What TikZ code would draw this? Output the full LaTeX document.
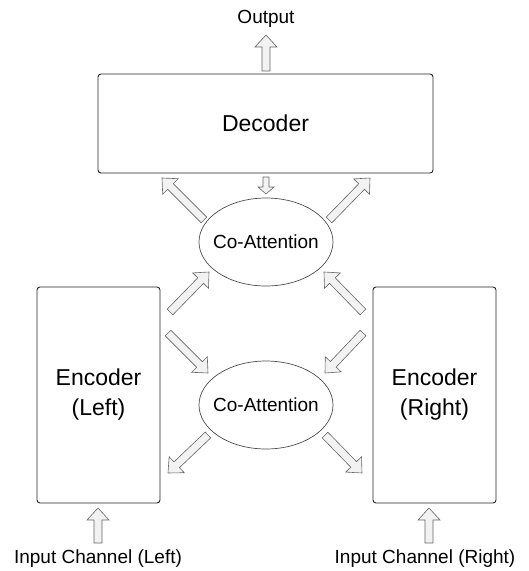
\documentclass[tikz,border=0pt]{standalone}
\usepackage{fontspec}
\setmainfont{Liberation Sans}
\usetikzlibrary{calc,shapes.geometric}
\tikzset{
  box/.style={draw=black!85, line width=0.9pt, rounded corners=3pt, align=center, font=\fontsize{23}{30}\selectfont},
  coatt/.style={ellipse, draw=black!70, line width=0.7pt, minimum width=134pt, minimum height=88pt, inner sep=0pt,
    label={[font=\fontsize{19}{23}\selectfont, inner sep=0pt]center:#1}},
  lbl/.style={font=\fontsize{19}{23}\selectfont, inner sep=0pt},
  barr/.style={draw=black!60, line width=0.6pt, fill=black!5, line join=miter},
}
% block arrow: #1 start, #2 tip, #3 shaft half-width, #4 head half-width, #5 head length
\newcommand\blockarrow[5]{%
  \coordinate (ba-c) at ($(#2)!#5!(#1)$);
  \path[barr] ($(#1)!#3!90:(#2)$) -- ($(ba-c)!#3!90:(#2)$) -- ($(ba-c)!#4!90:(#2)$)
    -- (#2) -- ($(ba-c)!#4!-90:(#2)$) -- ($(ba-c)!#3!-90:(#2)$) -- ($(#1)!#3!-90:(#2)$) -- cycle;
}
\begin{document}
\begin{tikzpicture}[x=1pt,y=-1pt]
\useasboundingbox (0,0) rectangle (529,571);
% nodes
\node[box, minimum width=335pt, minimum height=99pt] (dec) at (265.5,123.5) {Decoder};
\node[box, minimum width=123pt, minimum height=216pt] (encl) at (98.5,395) {Encoder\\(Left)};
\node[box, minimum width=123pt, minimum height=216pt] (encr) at (434.5,395) {Encoder\\(Right)};
\node[coatt=Co-Attention] (ca1) at (266,242) {};
\node[coatt=Co-Attention] (ca2) at (266,405) {};
\node[lbl] (out) at (266,19) {Output};
\node[lbl] (inl) at (98,559) {Input Channel (Left)};
\node[lbl] (inr) at (425,559) {Input Channel (Right)};
% arrow end points
\coordinate (o1) at (266,71);   \coordinate (o2) at (266,35);
\coordinate (d1) at (266,177);  \coordinate (d2) at (266,194);
\coordinate (tl1) at (204,220); \coordinate (tl2) at (162,178);
\coordinate (tr1) at (329,220); \coordinate (tr2) at (370,178);
\coordinate (el1) at (170,312); \coordinate (el2) at (209,272);
\coordinate (er1) at (363,312); \coordinate (er2) at (324,272);
\coordinate (il1) at (168,333); \coordinate (il2) at (208,373);
\coordinate (ir1) at (363,333); \coordinate (ir2) at (325,373);
\coordinate (ol1) at (208,435); \coordinate (ol2) at (168,473);
\coordinate (or1) at (325,435); \coordinate (or2) at (362,473);
\coordinate (pl1) at (98,543);  \coordinate (pl2) at (98,508);
\coordinate (pr1) at (429,543); \coordinate (pr2) at (429,508);
% arrows
\blockarrow{o1}{o2}{4pt}{11pt}{12pt}
\blockarrow{d1}{d2}{3pt}{8pt}{7pt}
\blockarrow{tl1}{tl2}{4pt}{11pt}{12pt}
\blockarrow{tr1}{tr2}{4pt}{11pt}{12pt}
\blockarrow{el1}{el2}{4pt}{11pt}{12pt}
\blockarrow{er1}{er2}{4pt}{11pt}{12pt}
\blockarrow{il1}{il2}{4pt}{11pt}{12pt}
\blockarrow{ir1}{ir2}{4pt}{11pt}{12pt}
\blockarrow{ol1}{ol2}{4pt}{11pt}{12pt}
\blockarrow{or1}{or2}{4pt}{11pt}{12pt}
\blockarrow{pl1}{pl2}{4pt}{11pt}{12pt}
\blockarrow{pr1}{pr2}{4pt}{11pt}{12pt}
\end{tikzpicture}
\end{document}
